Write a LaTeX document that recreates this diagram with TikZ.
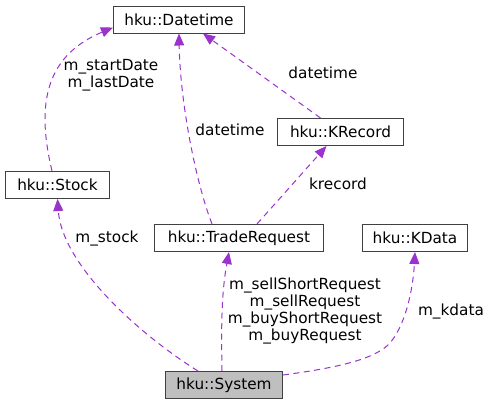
\documentclass[tikz,border=0pt]{standalone}
\usepackage{fontspec}
\setmainfont{DejaVu Sans}
\usepackage{tikz}
\usetikzlibrary{arrows.meta}
\definecolor{edgepurple}{HTML}{9A32CD}
\definecolor{boxgray}{HTML}{404040}
\definecolor{sysfill}{HTML}{BFBFBF}

\begin{document}
\begin{tikzpicture}[x=1pt, y=-1pt, >={Triangle[length=12pt,width=10pt]},
  font=\fontsize{15.3}{17}\selectfont,
  every box/.style={draw=boxgray, line width=1pt, minimum height=27pt, inner sep=0pt},
  box system/.style={fill=sysfill},
  link/.style={->, edgepurple, line width=1pt, dash pattern=on 6pt off 4.5pt},
  tag/.style={align=center, inner sep=0pt}]

\useasboundingbox (0,0) rectangle (491,405);

\foreach \n/\t/\x/\y/\w in {datetime/Datetime/179/19.5/131,
    stock/Stock/57.5/185/104, krecord/KRecord/340.5/132/126,
    traderequest/TradeRequest/239/238/169, kdata/KData/415/238/105,
    system/System/224/385/117}
  \node [every box/.try, box \n/.try, minimum width=\w pt] (\n) at (\x,\y) {hku::\t};

\draw [link] ([xshift=-5.5pt]stock.north) .. controls (35,100) and (48,55)
  .. ([yshift=-8pt]datetime.west);
\draw [link] ([xshift=-27pt]traderequest.north) .. controls (195,180) and (180,100)
  .. (datetime.south);
\draw [link] ([xshift=-20pt]krecord.north) -- ([xshift=24pt]datetime.south);
\draw [link] ([xshift=18pt]traderequest.north) -- ([xshift=-14pt]krecord.south);
\draw [link] ([xshift=-26pt]system.north) .. controls (140,335) and (62,265)
  .. (stock.south);
\draw [link] ([xshift=-2pt]system.north) .. controls (221,320) and (222,290)
  .. ([xshift=-10pt]traderequest.south);
\draw [link] ([yshift=10pt]system.east) .. controls (335,368) and (372,360)
  .. (388,345) .. controls (405,328) and (413,290) .. (kdata.south);

\node [tag] (dates) at (111,75) {m\_startDate\\m\_lastDate};
\node [tag] (tr-date) at (230,130) {datetime};
\node [tag] (kr-date) at (323,73) {datetime};
\node [tag] (kr) at (338,184) {krecord};
\node [tag] (stk) at (107,238) {m\_stock};
\node [tag] (reqs) at (305,310.5)
  {m\_sellShortRequest\\m\_sellRequest\\m\_buyShortRequest\\m\_buyRequest};
\node [tag] (kd) at (451,311) {m\_kdata};

\end{tikzpicture}
\end{document}
